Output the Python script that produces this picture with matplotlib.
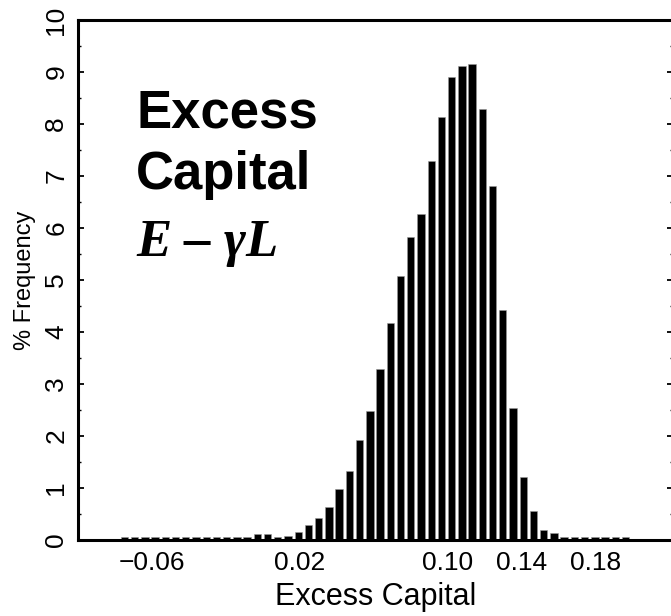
import numpy as np
import matplotlib
matplotlib.use('Agg')
import matplotlib.pyplot as plt

plt.rcParams['font.family'] = ['Liberation Sans', 'DejaVu Sans']

# histogram of excess capital, % frequency per bin
first_mid = -0.0749
bin_w = 0.005535
freq = [0.05, 0.06, 0.06, 0.06, 0.06, 0.06, 0.06, 0.06, 0.06, 0.06,
        0.06, 0.06, 0.06, 0.11, 0.11, 0.06, 0.07, 0.16,
        0.28, 0.42, 0.63, 0.99, 1.32, 1.93, 2.48, 3.28, 4.17, 5.07,
        5.82, 6.27, 7.28, 8.14, 8.91, 9.12, 9.16, 8.29, 6.81, 4.43,
        2.54, 1.21, 0.56, 0.20, 0.13,
        0.06, 0.05, 0.05, 0.05, 0.05, 0.05, 0.05]
xticks = [-0.06, 0.02, 0.10, 0.14, 0.18]
xticklabels = ['\u22120.06', '0.02', '0.10', '0.14', '0.18']
yticks = list(range(0, 11))

mids = first_mid + bin_w * np.arange(len(freq))

fig = plt.figure(figsize=(6.71, 6.16), dpi=100)
ax = fig.add_axes([78/671, 1-540/616, (673-78)/671, (540-20)/616])
ax.bar(mids, freq, width=bin_w*0.72, color='black', edgecolor='#999999', linewidth=0.4)

ax.set_xlim(-0.10, 0.222)
ax.set_ylim(0, 10)
ax.set_xticks(xticks)
ax.set_xticklabels(xticklabels, fontsize=19)
ax.set_yticks(yticks)
ax.set_yticklabels([str(v) for v in yticks], fontsize=19, rotation=90, va='center')
ax.set_yticks(np.arange(0.5, 10, 1), minor=True)
ax.tick_params(axis='x', length=0, pad=8)
ax.tick_params(axis='y', which='major', direction='in', length=4, width=1.3, left=True, right=True, pad=7)
ax.tick_params(axis='y', which='minor', direction='in', length=2.5, width=1.0, left=True, right=True)
for s in ax.spines.values():
    s.set_linewidth(2.2)

ax.set_xlabel('Excess Capital', fontsize=22, labelpad=5)
ax.set_ylabel('% Frequency', fontsize=17, labelpad=6)

fig.text(136/671, 1-127/616, 'Excess', fontsize=38, fontweight='bold', va='baseline')
fig.text(136/671, 1-189/616, 'Capital', fontsize=38, fontweight='bold', va='baseline')
fig.text(136/671, 1-256/616, 'E \u2013 \u03b3L', fontsize=38, fontweight='bold', style='italic',
         family=['Liberation Serif', 'DejaVu Serif'], va='baseline')

fig.savefig('out.png', dpi=100)
